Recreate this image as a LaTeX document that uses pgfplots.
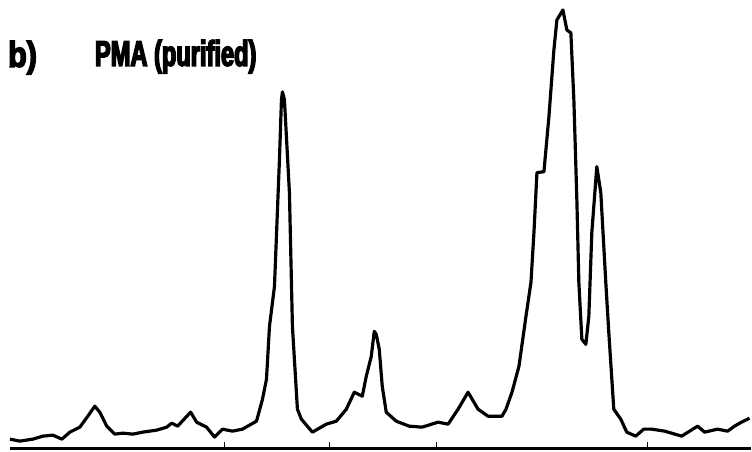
\documentclass[border=0pt]{standalone}
\usepackage{pgfplots}
\pgfplotsset{compat=1.18}
\usepackage{fontspec}
\setmainfont{Liberation Sans}
\newfontfamily\titlefont[FakeStretch=0.66,FakeBold=4]{Liberation Sans Bold}
\newfontfamily\bfont[FakeStretch=0.85,FakeBold=4]{Liberation Sans Bold}
\begin{document}
\begin{tikzpicture}
\begin{axis}[
  scale only axis, width=752bp, height=452bp,
  xmin=0, xmax=752, ymin=0, ymax=452, y dir=reverse,
  hide axis, clip=false,
]
\path (rel axis cs:0,0) rectangle (rel axis cs:1,1);
\addplot[black, line width=3.2pt, line join=round] coordinates {
(10,440)(20,442)(33,440)(43,437)(53,436)(62,440)(70,433)(80,428)(88,417)(95,407)(100,413)(107,427)(115,435)(123,434)(133,435)(143,433)(157,431)(167,428)(172,424)(178,427)(191,413)(197,423)(207,428)(215,438)(223,430)(233,432)(243,430)(257,422)(263,400)(267,380)(270,327)(275,287)(280,160)(282,100)(283,92)(285,100)(290,193)(293,327)(298,410)(302,420)(313,433)(327,425)(337,422)(347,410)(355,393)(363,397)(367,377)(372,357)(375,332)(377,335)(380,350)(383,387)(387,413)(397,422)(410,427)(423,428)(439,423)(449,425)(459,410)(469,393)(479,410)(489,417)(503,417)(507,410)(513,393)(520,367)(527,317)(532,283)(535,233)(538,173)(545,172)(550,117)(555,50)(558,20)(564,10)(568,30)(572,33)(575,100)(578,200)(580,283)(583,340)(587,345)(590,317)(593,233)(598,167)(602,193)(607,283)(610,333)(615,410)(622,420)(628,433)(637,437)(645,430)(653,430)(666,432)(683,437)(699,427)(706,433)(719,430)(729,432)(736,427)(743,423)(751,419)
};
\addplot[black, line width=3pt] coordinates {(10,449)(752,449)};
\addplot[black, line width=1.2pt] coordinates {(225,449)(225,443)};
\addplot[black, line width=1.2pt] coordinates {(330,449)(330,443)};
\addplot[black, line width=1.2pt] coordinates {(437,449)(437,443)};
\addplot[black, line width=1.2pt] coordinates {(649,449)(649,443)};
\node[anchor=base west, inner sep=0pt, font=\fontsize{36}{36}\selectfont\bfont] at (axis cs:8,67) {b)};
\node[anchor=base west, inner sep=0pt, font=\fontsize{36}{36}\selectfont\titlefont] at (axis cs:95,66) {PMA (purified)};
\end{axis}
\end{tikzpicture}
\end{document}
